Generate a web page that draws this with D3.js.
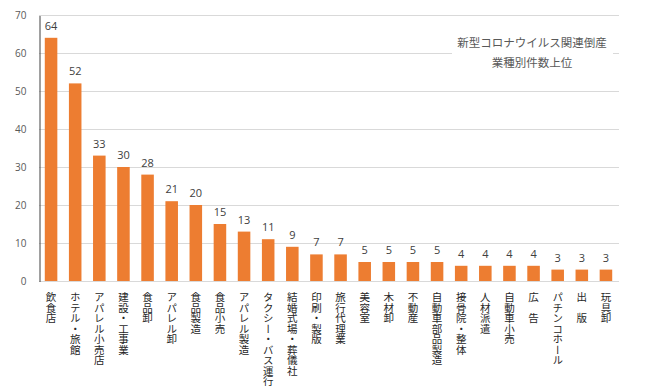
<!DOCTYPE html>
<html>
<head>
<meta charset="utf-8">
<script src="https://cdn.jsdelivr.net/npm/d3@7"></script>
<style>
  body { margin: 0; background: #fff; }
  svg text { font-family: "Noto Sans CJK JP", "Noto Sans", sans-serif; }
</style>
</head>
<body>
<div class="container"></div>
<script>
// Industries (bankruptcy counts)
const categories = ['飲食店', 'ホテル・旅館', 'アパレル小売店', '建設・工事業', '食品卸', 'アパレル卸', '食品製造', '食品小売', 'アパレル製造', 'タクシー・バス運行', '結婚式場・葬儀社', '印刷・製版', '旅行代理業', '美容室', '木材卸', '不動産', '自動車部品製造', '接骨院・整体', '人材派遣', '自動車小売', '広　告', 'パチンコホール', '出　版', '玩具卸'];
const values = [64, 52, 33, 30, 28, 21, 20, 15, 13, 11, 9, 7, 7, 5, 5, 5, 5, 4, 4, 4, 4, 3, 3, 3];
const yTicks = [0, 10, 20, 30, 40, 50, 60, 70];
const titleLines = ['新型コロナウイルス関連倒産', '業種別件数上位'];

const width = 650;
const height = 387;

const svg = d3.select('.container')
    .append('svg')
    .attr('width', width)
    .attr('height', height);

// scales
const xScale = d3.scaleBand().domain(categories).range([39, 618]).paddingInner(0.48).paddingOuter(0.24);
const yScale = d3.scaleLinear().domain([0, 70]).range([281, 15]);

// gridlines
svg.append('g')
    .selectAll('line')
    .data(yTicks)
    .enter()
    .append('line')
    .attr('x1', 39)
    .attr('x2', 619)
    .attr('y1', d => yScale(d) + 0.5)
    .attr('y2', d => yScale(d) + 0.5)
    .attr('stroke', '#d9d9d9')
    .attr('stroke-width', 1);

// y axis
const yAxis = d3.axisLeft(yScale).tickValues(yTicks).tickSize(0).tickPadding(13);
const gy = svg.append('g')
    .attr('id', 'y-axis')
    .attr('transform', 'translate(39.5, 0.5)')
    .call(yAxis);
gy.select('.domain').attr('stroke', '#404040');
gy.selectAll('text')
    .attr('fill', '#595959')
    .style('font-size', '10px')
    .style('font-family', '"Open Sans", sans-serif');

// bars
svg.selectAll('rect.bar')
    .data(values)
    .enter()
    .append('rect')
    .attr('class', 'bar')
    .attr('x', (d, i) => xScale(categories[i]))
    .attr('y', d => yScale(d))
    .attr('width', xScale.bandwidth())
    .attr('height', d => yScale(0) - yScale(d))
    .attr('fill', '#ed7d31');

// value labels
svg.selectAll('text.value')
    .data(values)
    .enter()
    .append('text')
    .attr('class', 'value')
    .attr('x', (d, i) => xScale(categories[i]) + xScale.bandwidth() / 2)
    .attr('y', d => yScale(d) - 8)
    .attr('text-anchor', 'middle')
    .attr('fill', '#404040')
    .style('font-size', '11px')
    .style('font-family', '"Open Sans", sans-serif')
    .text(d => d);

// category labels, vertical
svg.selectAll('text.cat')
    .data(categories)
    .enter()
    .append('text')
    .attr('class', 'cat')
    .attr('x', d => xScale(d) + xScale.bandwidth() / 2)
    .attr('y', 292)
    .style('writing-mode', 'vertical-rl')
    .style('font-size', '10.5px')
    .attr('fill', '#262626')
    .text(d => d);

// title box
svg.append('rect')
    .attr('x', 452)
    .attr('y', 30)
    .attr('width', 161)
    .attr('height', 45)
    .attr('fill', '#fff');

svg.selectAll('text.title')
    .data(titleLines)
    .enter()
    .append('text')
    .attr('class', 'title')
    .attr('x', 532)
    .attr('y', (d, i) => 47 + i * 20)
    .attr('text-anchor', 'middle')
    .attr('fill', '#595959')
    .style('font-size', '11.5px')
    .text(d => d);
</script>
</body>
</html>
